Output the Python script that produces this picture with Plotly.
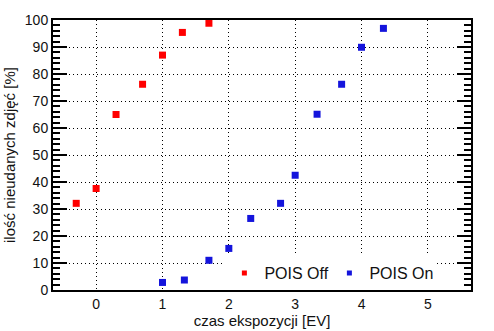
import plotly.graph_objects as go

off_x = [-0.3, 0.0, 0.3, 0.7, 1.0, 1.3, 1.7]
off_y = [32.1, 37.6, 65.0, 76.2, 87.0, 95.4, 98.8]
on_x = [1.0, 1.33, 1.7, 2.0, 2.33, 2.78, 3.0, 3.33, 3.7, 4.0, 4.33]
on_y = [2.8, 3.7, 11.0, 15.4, 26.5, 32.1, 42.5, 65.1, 76.2, 89.9, 96.9]

x_ticks = [0, 1, 2, 3, 4, 5]
y_ticks = [0, 10, 20, 30, 40, 50, 60, 70, 80, 90, 100]

RED = "#ff0000"
BLUE = "#1414dc"
FONT = "Liberation Sans, Arial, sans-serif"

fig = go.Figure()
fig.add_trace(go.Scatter(x=off_x, y=off_y, mode="markers", name="POIS Off",
                         marker=dict(symbol="square", size=7, color=RED), showlegend=False))
fig.add_trace(go.Scatter(x=on_x, y=on_y, mode="markers", name="POIS On",
                         marker=dict(symbol="square", size=7, color=BLUE), showlegend=False))
# legend entries (smaller symbols, as in the reference)
fig.add_trace(go.Scatter(x=[None], y=[None], mode="markers", name="POIS Off",
                         marker=dict(symbol="square", size=5, color=RED)))
fig.add_trace(go.Scatter(x=[None], y=[None], mode="markers", name="POIS On",
                         marker=dict(symbol="square", size=5, color=BLUE)))

fig.update_layout(
    width=494, height=331,
    margin=dict(l=53, r=23, t=20, b=41),
    paper_bgcolor="white", plot_bgcolor="white",
    font=dict(family=FONT, size=14, color="#111111"),
    legend=dict(orientation="h", x=0.41, y=0.0, xanchor="left", yanchor="bottom",
                bgcolor="white", font=dict(size=16), itemwidth=30,
                entrywidth=60, entrywidthmode="pixels", tracegroupgap=0),
)
fig.update_xaxes(
    range=[-0.65, 5.65], tickvals=x_ticks, ticks="", showline=True, mirror=True,
    linecolor="black", linewidth=2, showgrid=True, gridcolor="black",
    griddash="1px,3px", gridwidth=1.2, zeroline=False, automargin=False,
    title=dict(text="czas ekspozycji [EV]", font=dict(size=15), standoff=1),
    ticklabelstandoff=0,
)
fig.update_yaxes(
    range=[0, 100], tickvals=y_ticks, ticks="inside", ticklen=14, tickwidth=1.5,
    tickcolor="black", showline=True, mirror="ticks", linecolor="black", linewidth=2,
    showgrid=True, gridcolor="black", griddash="1px,3px", gridwidth=1.2, zeroline=False,
    automargin=False,
    minor=dict(dtick=2, ticks="inside", ticklen=7, tickwidth=1.5, tickcolor="black",
               showgrid=False),
    title=dict(text="ilość nieudanych zdjęć [%]", font=dict(size=15), standoff=6),
)

fig.write_html("out.html")
